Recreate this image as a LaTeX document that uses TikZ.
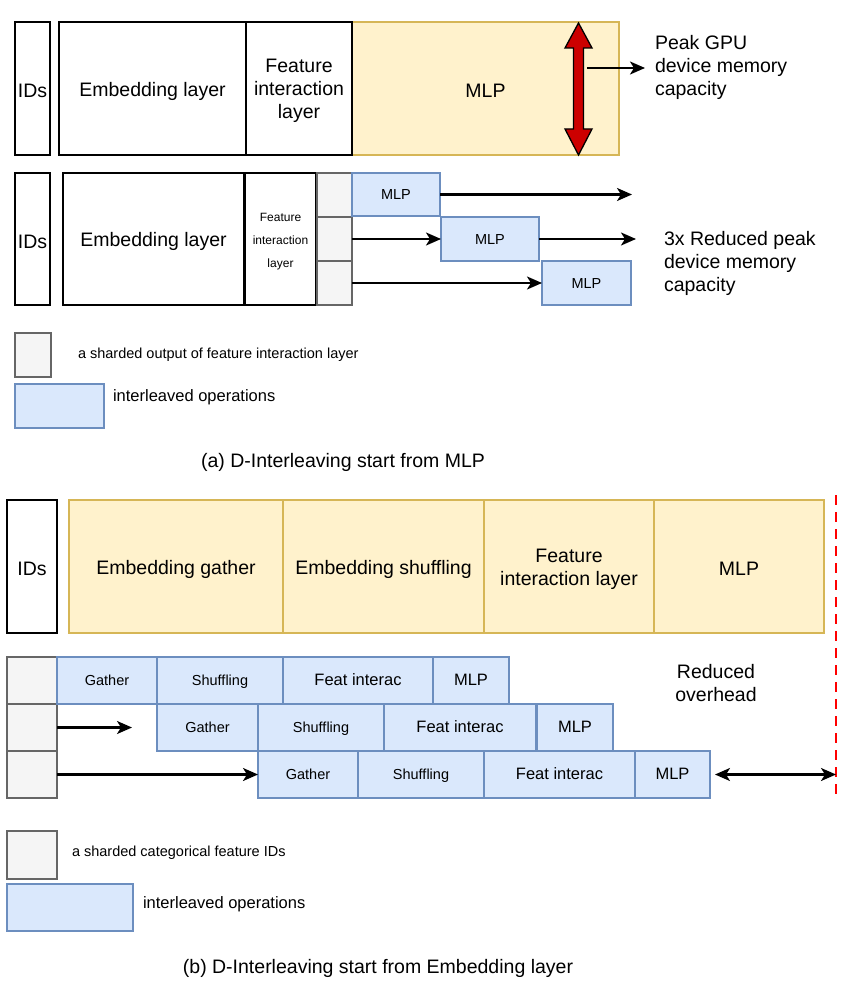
\documentclass[tikz,border=0pt]{standalone}
\usepackage{fontspec}
\setmainfont{Liberation Sans}
\usetikzlibrary{arrows.meta}
\definecolor{yelF}{HTML}{FFF2CC}
\definecolor{yelD}{HTML}{D6B656}
\definecolor{bluF}{HTML}{DAE8FC}
\definecolor{bluD}{HTML}{6C8EBF}
\definecolor{gryF}{HTML}{F5F5F5}
\definecolor{gryD}{HTML}{666666}
\definecolor{darkred}{HTML}{CC0000}
\newcommand\fbig{\fontsize{19.5}{23}\selectfont}
\newcommand\fmid{\fontsize{16.5}{20}\selectfont}
\newcommand\fsml{\fontsize{14.5}{18}\selectfont}
\newcommand\ftiny{\fontsize{12}{23}\selectfont}
% box node (#1) and its text node (#1t), text lowered slightly
\newcommand\Bx[7]{\node[#6, inner sep=0pt, outer sep=0pt,
  minimum width={#4pt-#2pt}, minimum height={#5pt-#3pt}]
  (#1) at ({(#2+#4)/2},{(#3+#5)/2}) {};
  \node[#6, draw=none, fill=none, inner sep=0pt, align=center]
  (#1t) at ([yshift=-2.5pt]#1.center) {#7};}
\begin{document}
\begin{tikzpicture}[x=1pt,y=-1pt,
  blk/.style={draw=black, line width=1.8pt, fill=white, font=\fbig},
  yel/.style={draw=yelD, fill=yelF, line width=1.3pt, font=\fbig},
  blu/.style={draw=bluD, fill=bluF, line width=1.3pt, font=\fsml,
    text height=0.74em, text depth=0.21em},
  gry/.style={draw=gryD, fill=gryF, line width=1.3pt},
  lbl/.style={inner sep=0pt, outer sep=0pt, anchor=west, align=left, yshift=-2pt},
  headtip/.tip={Stealth[length=15pt,width=13pt,inset=4pt]},
  arr/.style={-headtip, line width=2.1pt},
  darr/.style={headtip-headtip, line width=2.1pt}]
\useasboundingbox (0,0) rectangle (849,984);

% ---------- (a) top row ----------
\Bx{mlpa}{352}{22}{619}{155}{yel}{MLP}
\Bx{ida}{15}{22}{50}{155}{blk}{IDs}
\Bx{emba}{59}{22}{246}{155}{blk}{Embedding layer}
\Bx{fia}{246}{22}{352}{155}{blk}{Feature\\interaction\\layer}
\draw[fill=darkred, draw=black, line width=1.3pt]
  (578.5,23) -- (592,48) -- (583.5,48) -- (583.5,129) -- (592,129) -- (578.5,155)
  -- (565,129) -- (573.5,129) -- (573.5,48) -- (565,48) -- cycle;
\coordinate (pk0) at (587,68);
\coordinate (pk1) at (645,68);
\node[lbl, font=\fbig] (pk) at (655,65) {Peak GPU\\device memory\\capacity};
\draw[arr] (pk0) -- (pk1);

% ---------- (a) second row ----------
\Bx{idb}{15}{173}{50}{305}{blk}{IDs}
\Bx{embb}{63}{173}{244}{305}{blk}{Embedding layer}
\Bx{fib}{245}{173}{316}{305}{blk, font=\ftiny}{Feature\\interaction\\layer}
\Bx{s1}{317}{173}{352}{217}{gry}{}
\Bx{s2}{317}{217}{352}{261}{gry}{}
\Bx{s3}{317}{261}{352}{305}{gry}{}
\Bx{m1}{352}{173}{440}{216}{blu}{MLP}
\Bx{m2}{441}{217}{539}{261}{blu}{MLP}
\Bx{m3}{542}{261}{631}{305}{blu}{MLP}
\coordinate (e1) at (632,194.5);
\coordinate (e2) at (636,239);
\draw[arr] (m1.east) -- (e1);
\draw[arr] (s2.east) -- (m2.west);
\draw[arr] (m2.east) -- (e2);
\draw[arr] (s3.east) -- (m3.west);
\node[lbl, font=\fbig] (red) at (664,261) {3x Reduced peak\\device memory\\capacity};

% ---------- (a) legend ----------
\Bx{lga}{15}{333}{51}{377}{gry}{}
\node[lbl, font=\fsml] (lgat) at (78,353) {a sharded output of feature interaction layer};
\Bx{lba}{15}{384}{104}{428}{blu}{}
\node[lbl, font=\fmid] (lbat) at (113,395) {interleaved operations};
\node[font=\fbig, inner sep=0pt] (capa) at (343,462) {(a) D-Interleaving start from MLP};

% ---------- (b) top row ----------
\Bx{eg}{69}{500}{283}{633}{yel}{Embedding gather}
\Bx{es}{283}{500}{484}{633}{yel}{Embedding shuffling}
\Bx{fic}{484}{500}{654}{633}{yel}{Feature\\interaction layer}
\Bx{mlpc}{654}{500}{824}{633}{yel}{MLP}
\Bx{idc}{7}{500}{57}{633}{blk}{IDs}
\coordinate (dt) at (836,495);
\coordinate (db) at (836,800);
\draw[red, line width=2.6pt, dash pattern=on 10pt off 7pt] (dt) -- (db);

% ---------- (b) interleaved rows ----------
\Bx{g1}{7}{657}{57}{704}{gry}{}
\Bx{g2}{7}{704}{57}{751}{gry}{}
\Bx{g3}{7}{751}{57}{798}{gry}{}
\Bx{r1g}{57}{657}{157}{704}{blu}{Gather}
\Bx{r1s}{157}{657}{283}{704}{blu}{Shuffling}
\Bx{r1f}{283}{657}{433}{704}{blu, font=\fmid}{Feat interac}
\Bx{r1m}{433}{657}{509}{704}{blu, font=\fmid}{MLP}
\Bx{r2g}{157}{704}{258}{751}{blu}{Gather}
\Bx{r2s}{258}{704}{384}{751}{blu}{Shuffling}
\Bx{r2f}{384}{704}{536}{751}{blu, font=\fmid}{Feat interac}
\Bx{r2m}{537}{704}{613}{751}{blu, font=\fmid}{MLP}
\Bx{r3g}{258}{751}{358}{798}{blu}{Gather}
\Bx{r3s}{358}{751}{484}{798}{blu}{Shuffling}
\Bx{r3f}{484}{751}{635}{798}{blu, font=\fmid}{Feat interac}
\Bx{r3m}{635}{751}{710}{798}{blu, font=\fmid}{MLP}
\coordinate (a2) at (132,727.5);
\draw[arr] (g2.east) -- (a2);
\draw[arr] (g3.east) -- (r3g.west);
\coordinate (dl) at (836,774.5);
\draw[darr] ([xshift=5pt]r3m.east) -- (dl);
\node[font=\fbig, align=center, inner sep=0pt] (ovh) at (716,683) {Reduced\\overhead};

% ---------- (b) legend ----------
\Bx{lgb}{7}{831}{57}{879}{gry}{}
\node[lbl, font=\fsml] (lgbt) at (72,851) {a sharded categorical feature IDs};
\Bx{lbb}{7}{884}{133}{931}{blu}{}
\node[lbl, font=\fmid] (lbbt) at (143,902) {interleaved operations};
\node[font=\fbig, inner sep=0pt] (capb) at (378,968) {(b) D-Interleaving start from Embedding layer};
\end{tikzpicture}
\end{document}
